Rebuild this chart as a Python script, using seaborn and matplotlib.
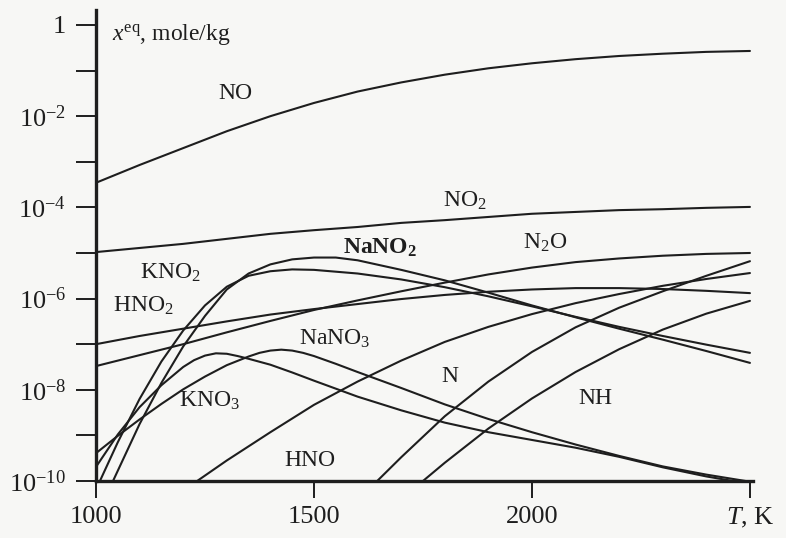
import numpy as np
import pandas as pd
import matplotlib
matplotlib.use("Agg")
import matplotlib.pyplot as plt
from matplotlib.ticker import NullLocator
import seaborn as sns

# Equilibrium concentrations x_eq (mole/kg) vs temperature T (K), stored as log10 values
T_NO = [1000, 1100, 1200, 1300, 1400, 1500, 1600, 1700, 1800, 1900, 2000, 2100, 2200, 2300, 2400, 2500]
lg_NO = [-3.46, -3.07, -2.70, -2.33, -2.00, -1.71, -1.46, -1.26, -1.09, -0.95, -0.84, -0.75, -0.68, -0.63, -0.59, -0.57]

T_NO2 = [1000, 1100, 1200, 1300, 1400, 1500, 1600, 1700, 1800, 1900, 2000, 2100, 2200, 2300, 2400, 2500]
lg_NO2 = [-4.98, -4.89, -4.80, -4.69, -4.58, -4.50, -4.43, -4.34, -4.28, -4.21, -4.14, -4.10, -4.06, -4.04, -4.01, -3.99]

T_N2O = [1000, 1100, 1200, 1300, 1400, 1500, 1600, 1700, 1800, 1900, 2000, 2100, 2200, 2300, 2400, 2500]
lg_N2O = [-7.48, -7.24, -7.00, -6.74, -6.49, -6.25, -6.04, -5.84, -5.65, -5.47, -5.32, -5.20, -5.12, -5.06, -5.02, -5.00]

T_HNO2 = [1000, 1100, 1200, 1300, 1400, 1500, 1600, 1700, 1800, 1900, 2000, 2100, 2200, 2300, 2400, 2500]
lg_HNO2 = [-7.00, -6.82, -6.66, -6.50, -6.35, -6.23, -6.12, -6.01, -5.92, -5.85, -5.80, -5.77, -5.77, -5.79, -5.83, -5.88]

T_HNO = [1232, 1300, 1400, 1500, 1600, 1700, 1800, 1900, 2000, 2100, 2200, 2300, 2400, 2500]
lg_HNO = [-10.0, -9.55, -8.93, -8.33, -7.82, -7.36, -6.95, -6.62, -6.34, -6.10, -5.90, -5.72, -5.57, -5.44]

T_N = [1645, 1700, 1800, 1900, 2000, 2100, 2200, 2300, 2400, 2500]
lg_N = [-10.0, -9.48, -8.58, -7.82, -7.17, -6.63, -6.20, -5.84, -5.50, -5.18]

T_NH = [1750, 1800, 1900, 2000, 2100, 2200, 2300, 2400, 2500]
lg_NH = [-10.0, -9.60, -8.85, -8.19, -7.61, -7.11, -6.68, -6.33, -6.05]

T_NaNO2 = [1039, 1100, 1150, 1200, 1250, 1300, 1350, 1400, 1450, 1500, 1550, 1600, 1700, 1800, 1900, 2000, 2100, 2200, 2300, 2400, 2500]
lg_NaNO2 = [-10.0, -8.75, -7.85, -7.05, -6.38, -5.80, -5.45, -5.25, -5.14, -5.10, -5.10, -5.16, -5.37, -5.60, -5.87, -6.15, -6.41, -6.66, -6.90, -7.15, -7.41]

T_KNO2 = [1009, 1050, 1100, 1150, 1200, 1250, 1300, 1350, 1400, 1450, 1500, 1600, 1700, 1800, 1900, 2000, 2100, 2200, 2300, 2400, 2500]
lg_KNO2 = [-10.0, -9.15, -8.20, -7.38, -6.70, -6.15, -5.74, -5.50, -5.40, -5.36, -5.37, -5.45, -5.58, -5.75, -5.95, -6.17, -6.40, -6.62, -6.82, -7.01, -7.19]

T_KNO3 = [1000, 1050, 1100, 1150, 1200, 1225, 1250, 1275, 1300, 1325, 1350, 1400, 1450, 1500, 1600, 1700, 1800, 1900, 2000, 2100, 2200, 2300, 2400, 2461]
lg_KNO3 = [-9.69, -8.98, -8.38, -7.90, -7.50, -7.35, -7.25, -7.20, -7.21, -7.26, -7.32, -7.45, -7.62, -7.80, -8.15, -8.45, -8.72, -8.93, -9.10, -9.27, -9.47, -9.70, -9.90, -10.0]

T_NaNO3 = [1000, 1050, 1100, 1150, 1200, 1250, 1300, 1350, 1375, 1400, 1425, 1450, 1475, 1500, 1550, 1600, 1700, 1800, 1900, 2000, 2100, 2200, 2300, 2400, 2490]
lg_NaNO3 = [-9.39, -9.01, -8.65, -8.31, -7.99, -7.71, -7.46, -7.27, -7.19, -7.14, -7.12, -7.14, -7.19, -7.26, -7.43, -7.61, -7.96, -8.32, -8.64, -8.93, -9.20, -9.45, -9.68, -9.86, -10.0]

species = ["NO", "NO2", "N2O", "HNO2", "HNO", "N", "NH", "NaNO2", "KNO2", "KNO3", "NaNO3"]
series = {
    "NO": (T_NO, lg_NO), "NO2": (T_NO2, lg_NO2), "N2O": (T_N2O, lg_N2O),
    "HNO2": (T_HNO2, lg_HNO2), "HNO": (T_HNO, lg_HNO), "N": (T_N, lg_N),
    "NH": (T_NH, lg_NH), "NaNO2": (T_NaNO2, lg_NaNO2), "KNO2": (T_KNO2, lg_KNO2),
    "KNO3": (T_KNO3, lg_KNO3), "NaNO3": (T_NaNO3, lg_NaNO3),
}

frames = []
for name in species:
    T, lg = series[name]
    frames.append(pd.DataFrame({"T": T, "x_eq": 10.0 ** np.array(lg), "species": name}))
df = pd.concat(frames, ignore_index=True)

# Curve labels: text, temperature, log10 position, weight
curve_labels = [
    ("NO", 1319, -1.51, "normal"),
    ("NO$_2$", 1846, -3.86, "normal"),
    ("NaNO$_{\\mathbf{2}}$", 1651, -4.89, "bold"),
    ("N$_2$O", 2030, -4.78, "normal"),
    ("KNO$_2$", 1170, -5.44, "normal"),
    ("HNO$_2$", 1108, -6.16, "normal"),
    ("NaNO$_3$", 1548, -6.89, "normal"),
    ("N", 1812, -7.70, "normal"),
    ("KNO$_3$", 1261, -8.25, "normal"),
    ("NH", 2145, -8.18, "normal"),
    ("HNO", 1491, -9.56, "normal"),
]

sns.set_theme(style="ticks")
plt.rcParams["font.family"] = ["Liberation Serif", "DejaVu Serif"]
plt.rcParams["mathtext.fontset"] = "custom"
plt.rcParams["mathtext.rm"] = "Liberation Serif"
plt.rcParams["mathtext.it"] = "Liberation Serif:italic"
plt.rcParams["mathtext.bf"] = "Liberation Serif:bold"

ink = "#1e1e1e"
bg = "#f7f7f5"

fig = plt.figure(figsize=(7.86, 5.38), dpi=100, facecolor=bg)
ax = fig.add_axes([96 / 786, 1 - 481 / 538, 657 / 786, 471 / 538])
ax.set_facecolor(bg)

sns.lineplot(data=df, x="T", y="x_eq", hue="species", units="species", estimator=None,
             palette={s: ink for s in species}, linewidth=1.5, legend=False, ax=ax)

ax.set_yscale("log")
ax.set_xlim(1000, 2507)
ax.set_ylim(1e-10, 2.13)

ytick_vals = [10.0 ** -k for k in range(0, 11)]
ytick_labels = ["1" if k == 0 else (f"$10^{{-{k}}}$" if k % 2 == 0 else "") for k in range(0, 11)]
ax.set_yticks(ytick_vals, ytick_labels)
ax.yaxis.set_minor_locator(NullLocator())
ax.set_xticks([1000, 1500, 2000, 2500], ["1000", "1500", "2000", "$T$, K"])

ax.tick_params(axis="y", direction="out", length=14.5, width=1.4, color=ink,
               labelsize=19, pad=7, labelcolor=ink)
ax.tick_params(axis="x", direction="out", length=12, width=1.4, color=ink,
               labelsize=19, pad=6, labelcolor=ink)

sns.despine(ax=ax)
for side in ("left", "bottom"):
    ax.spines[side].set_linewidth(2.4)
    ax.spines[side].set_color(ink)

ax.set_xlabel("")
ax.set_ylabel("")

ax.text(0.025, 0.975, "$x^{\\mathrm{eq}}$, mole/kg", transform=ax.transAxes,
        fontsize=17, color=ink, ha="left", va="top")

for text, T, lg, weight in curve_labels:
    ax.text(T, 10.0 ** lg, text, fontsize=17, color=ink, ha="center", va="center",
            fontweight=weight)

fig.savefig("out.png", dpi=100, facecolor=bg)
